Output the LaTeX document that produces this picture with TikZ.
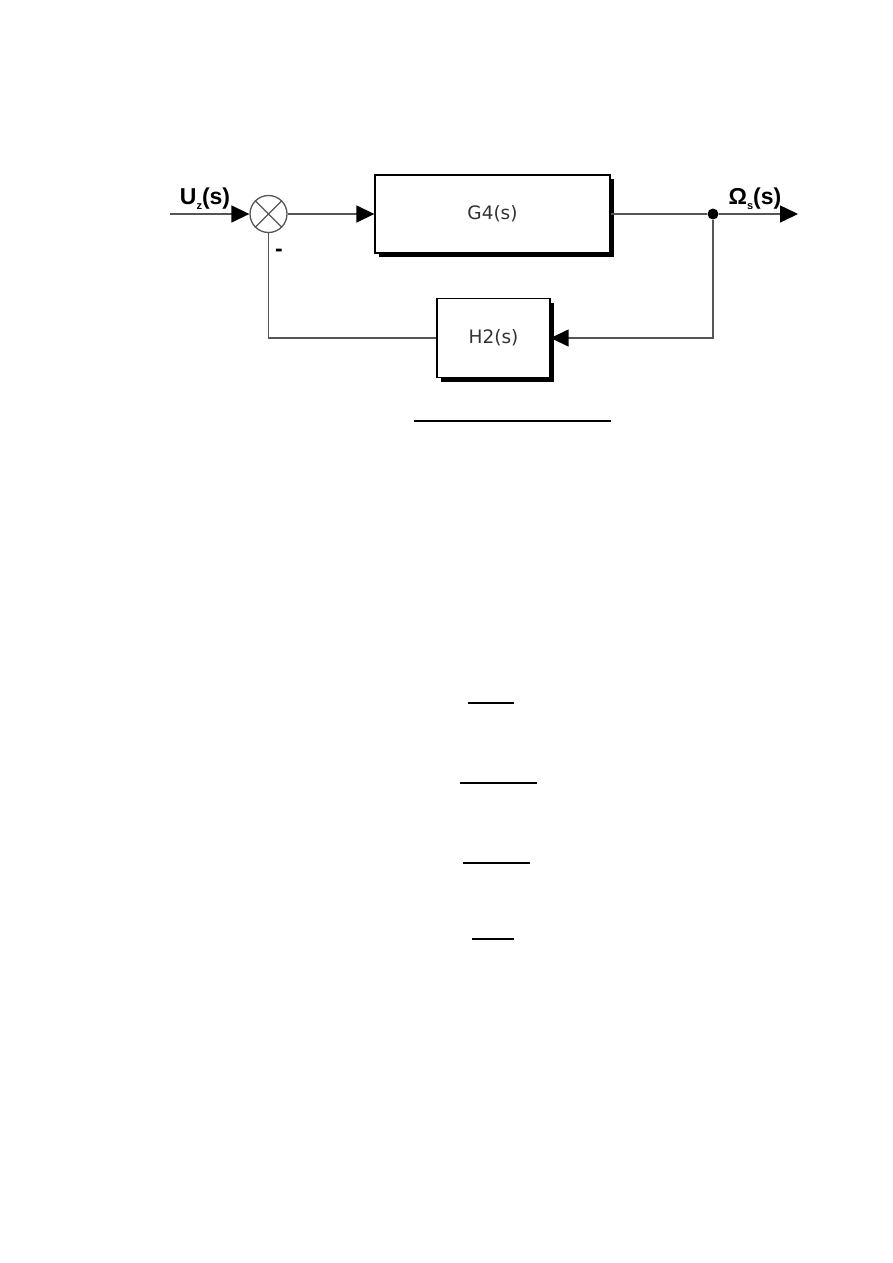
\documentclass[tikz,border=0pt]{standalone}
\usepackage{fontspec}
\setmainfont{DejaVu Sans}
\newfontfamily\labfont{Liberation Sans}
\usetikzlibrary{arrows.meta,shadows}
\definecolor{linec}{RGB}{85,85,85}
\definecolor{txtc}{RGB}{50,50,50}
\begin{document}
\begin{tikzpicture}[x=1pt,y=-1pt,
  blk/.style={draw=black,line width=1.3pt,fill=white,inner sep=0pt,
    drop shadow={shadow xshift=4pt,shadow yshift=-4pt,opacity=1,fill=black},
    font=\fontsize{18.5}{20}\selectfont,text=txtc},
  conn/.style={draw=linec,line width=1.4pt},
  arr/.style={conn,-{Triangle[length=18pt,width=17pt,fill=black,color=black]}},
  lab/.style={font=\labfont\bfseries\fontsize{23}{25}\selectfont,inner sep=0pt},
  rule/.style={draw=black,line width=1.8pt}]
\useasboundingbox (0,0) rectangle (893,1263);
\node[blk,minimum width=235pt,minimum height=78pt] (g4) at (492.5,214) {G4(s)};
\node[blk,minimum width=113pt,minimum height=79pt] (h2) at (493.5,338) {H2(s)};
\node[draw=linec,line width=1.3pt,circle,minimum size=37pt,inner sep=0pt] (sum) at (268.5,214) {};
\draw[linec,line width=1.2pt] (sum.north west) -- (sum.south east) (sum.north east) -- (sum.south west);
\coordinate (in) at (170,214);
\coordinate (out) at (798,214);
\node[circle,fill=black,minimum size=11pt,inner sep=0pt] (dot) at (713,214) {};
\draw[arr] (in) -- (sum.west);
\draw[arr] (sum.east) -- (g4.west);
\draw[conn] (g4.east) -- (dot);
\draw[arr] (dot) -- (out);
\draw[arr] (dot) |- (h2.east);
\draw[conn] (h2.west) -| (sum.south);
\node[lab] (uz) at (205,199) {U\raisebox{-5pt}{\fontsize{11}{11}\selectfont z}(s)};
\node[lab] (om) at (755,199) {Ω\raisebox{-5pt}{\fontsize{11}{11}\selectfont s}(s)};
\node[lab] (minus) at (279,253) {-};
\draw[black,line width=1.5pt] (414,421) -- (611,421);
\draw[rule] (468,703) -- (514,703);
\draw[rule] (460,783) -- (537,783);
\draw[rule] (463,863) -- (530,863);
\draw[rule] (472,939) -- (514,939);
\end{tikzpicture}
\end{document}
